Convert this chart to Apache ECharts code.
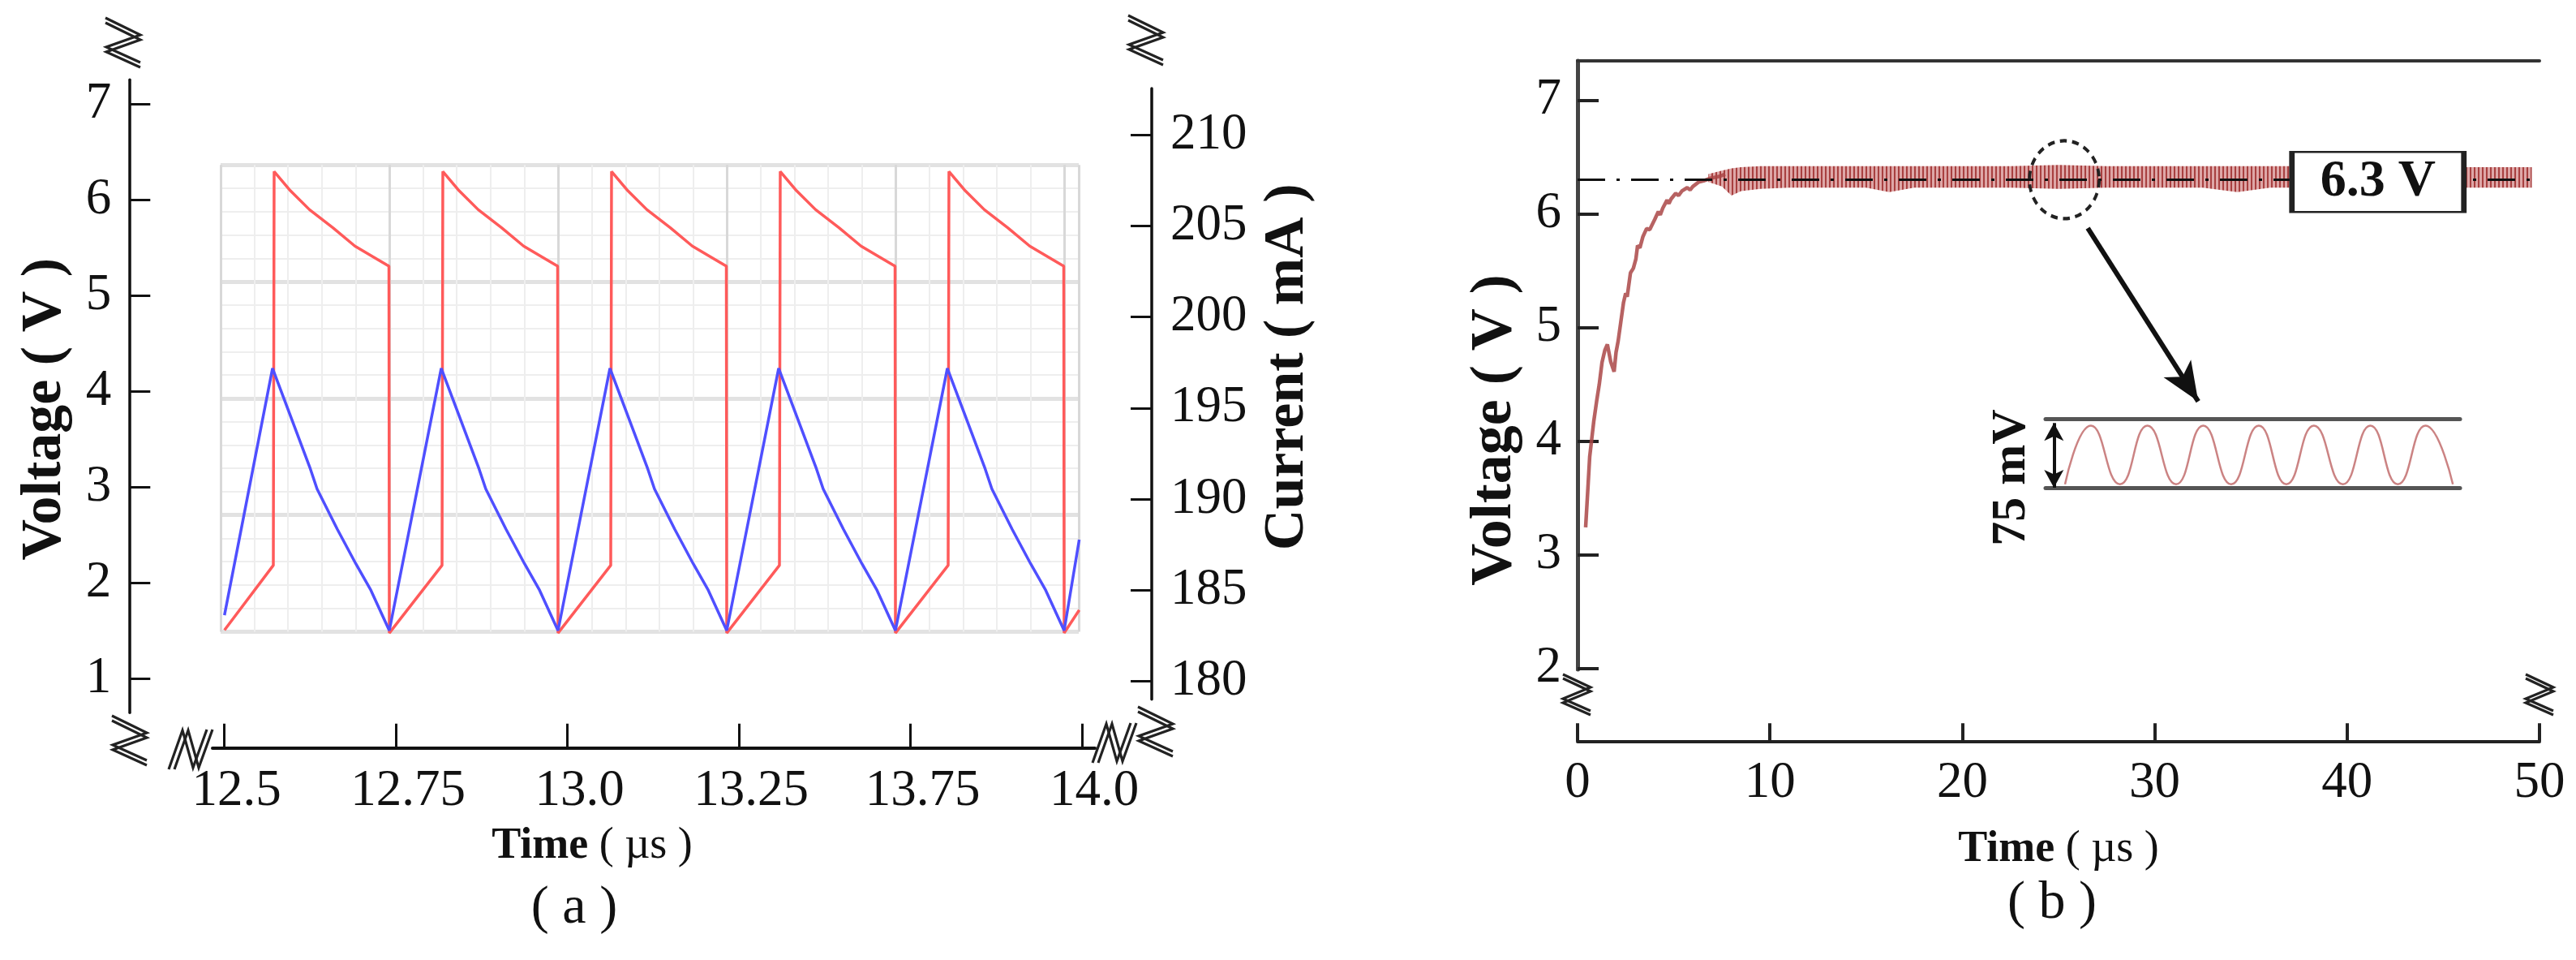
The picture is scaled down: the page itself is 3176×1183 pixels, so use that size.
<!DOCTYPE html>
<html><head><meta charset="utf-8">
<script src="https://cdn.jsdelivr.net/npm/echarts@6/dist/echarts.min.js"></script>
<style>html,body{margin:0;padding:0;background:#fff}#c{width:3176px;height:1183px}</style>
</head><body><div id="c"></div><script>
// ---------------- data: panel (a) ----------------
const aTickValues = [12.5, 12.8, 13.1, 13.4, 13.7, 14.0];
const aTickLabels = ['12.5', '12.75', '13.0', '13.25', '13.75', '14.0'];
const aVoltTicks = [1, 2, 3, 4, 5, 6, 7];
const aCurrentTicks = [180, 185, 190, 195, 200, 205, 210];
// red trace, current (mA) vs time (us)
const aCurrent = [
  [12.5000,182.80],[12.5855,186.36],[12.5869,208.0],[12.6136,207.0],[12.6488,205.9],[12.6901,204.9],[12.7282,203.9],[12.7606,203.3],[12.7841,202.86],[12.7877,202.8],[12.7884,182.64],
  [12.8806,186.36],[12.8820,208.0],[12.9087,207.0],[12.9439,205.9],[12.9852,204.9],[13.0233,203.9],[13.0557,203.3],[13.0792,202.86],[13.0828,202.8],[13.0835,182.64],
  [13.1757,186.36],[13.1771,208.0],[13.2038,207.0],[13.2390,205.9],[13.2803,204.9],[13.3184,203.9],[13.3508,203.3],[13.3743,202.86],[13.3779,202.8],[13.3786,182.64],
  [13.4708,186.36],[13.4722,208.0],[13.4989,207.0],[13.5341,205.9],[13.5754,204.9],[13.6135,203.9],[13.6459,203.3],[13.6694,202.86],[13.6730,202.8],[13.6737,182.64],
  [13.7659,186.36],[13.7673,208.0],[13.7940,207.0],[13.8292,205.9],[13.8705,204.9],[13.9086,203.9],[13.9410,203.3],[13.9645,202.86],[13.9681,202.8],[13.9688,182.64],
  [13.9952,183.90]
];
// blue trace, voltage (V) vs time (us)
const aVoltage = [
  [12.5000,1.66],[12.5841,4.24],[12.6150,3.75],[12.6502,3.19],[12.6620,2.98],[12.6973,2.56],[12.7296,2.20],[12.7562,1.92],[12.7884,1.50],
  [12.8792,4.24],[12.9101,3.75],[12.9453,3.19],[12.9571,2.98],[12.9924,2.56],[13.0247,2.20],[13.0513,1.92],[13.0835,1.50],
  [13.1743,4.24],[13.2052,3.75],[13.2404,3.19],[13.2522,2.98],[13.2875,2.56],[13.3198,2.20],[13.3464,1.92],[13.3786,1.50],
  [13.4694,4.24],[13.5003,3.75],[13.5355,3.19],[13.5473,2.98],[13.5826,2.56],[13.6149,2.20],[13.6415,1.92],[13.6737,1.50],
  [13.7645,4.24],[13.7954,3.75],[13.8306,3.19],[13.8424,2.98],[13.8777,2.56],[13.9100,2.20],[13.9366,1.92],[13.9688,1.50],
  [13.9952,2.45]
];

// ---------------- data: panel (b) ----------------
const bTimeTicks = [0, 10, 20, 30, 40, 50];
const bVoltTicks = [2, 3, 4, 5, 6, 7];
const bRise = [
  [0.42,3.24],[0.55,3.62],[0.63,3.86],[0.84,4.17],[1.00,4.36],[1.13,4.50],[1.27,4.69],[1.42,4.80],[1.55,4.85],[1.72,4.70],
  [1.90,4.61],[2.00,4.78],[2.11,4.88],[2.25,5.05],[2.39,5.22],[2.50,5.30],[2.58,5.27],[2.75,5.48],[2.90,5.52],[3.03,5.60],
  [3.12,5.72],[3.24,5.70],[3.40,5.80],[3.59,5.87],[3.75,5.86],[4.01,5.95],[4.20,6.02],[4.30,5.99],[4.43,6.05],[4.65,6.12],
  [4.75,6.09],[4.86,6.13],[5.10,6.18],[5.25,6.16],[5.42,6.20],[5.70,6.23],[5.85,6.21],[5.99,6.24],[6.30,6.28],[6.55,6.29],
  [6.85,6.31],[7.11,6.32],[7.40,6.33],[7.67,6.35]
];
const bBandTime = [6.8, 7.5, 8.0, 8.5, 9.5, 11, 13, 15, 16.2, 17.5, 20, 22.5, 25, 27.5, 30, 32.5, 34.3, 36, 38, 40, 42, 44, 46, 48, 49.6];
const bBandHigh = [6.35, 6.38, 6.40, 6.41, 6.42, 6.42, 6.42, 6.42, 6.42, 6.42, 6.42, 6.42, 6.43, 6.42, 6.42, 6.42, 6.42, 6.42, 6.42, 6.42, 6.42, 6.41, 6.41, 6.41, 6.41];
const bBandLow  = [6.28, 6.24, 6.16, 6.20, 6.22, 6.23, 6.23, 6.23, 6.19, 6.23, 6.23, 6.23, 6.22, 6.23, 6.23, 6.23, 6.19, 6.23, 6.23, 6.23, 6.23, 6.23, 6.23, 6.23, 6.23];
const bRefLevel = 6.3;
const bRefSpan = [0, 49.6];
// inset: ripple in mV vs ripple cycles
const bInsetRipple = [
  [0.349,4],[0.814,72],[1.333,4],[1.826,72],[2.340,4],[2.827,72],[3.328,4],[3.823,72],
  [4.317,4],[4.811,72],[5.330,4],[5.823,72],[6.315,4],[6.810,72],[7.302,4]
];
const bRippleMv = 75;

// ---------------- styling helpers ----------------
const SERIF = "'Liberation Serif','Times New Roman',serif";
const INK = '#111';

const pc = document.createElement('canvas');
pc.width = 5; pc.height = 40;
const pg = pc.getContext('2d');
pg.fillStyle = 'rgba(195,95,95,0.55)'; pg.fillRect(0, 0, 5, 40);
pg.fillStyle = 'rgba(150,30,30,0.75)'; pg.fillRect(0, 0, 2, 40);
const bandPattern = { image: pc, repeat: 'repeat' };

function zig(cx, cy, pts, dx, dy) {
  const st = { stroke: '#222', lineWidth: 3.2, fill: null };
  return { type: 'group', x: cx, y: cy, silent: true, children: [
    { type: 'polyline', shape: { points: pts }, style: st },
    { type: 'polyline', shape: { points: pts.map(p => [p[0] + dx, p[1] + dy]) }, style: st }
  ]};
}
const vZ = [[-22,-28],[21,-7],[-21,8],[21,27]];
const vZs = [[-17,-23],[17,-7],[-17,7],[17,22]];
const hZ = [[-24,24],[-7,-24],[6,22],[23,-25]];

const tickLab = { fontFamily: SERIF, fontSize: 63, color: INK };
const off = { show: false };

const option = {
  animation: false,
  textStyle: { fontFamily: SERIF },
  title: [
    { text: '( a )', left: 703, top: 1082, textAlign: 'center', textStyle: { fontFamily: SERIF, fontWeight: 'normal', fontSize: 66, color: INK } },
    { text: '( b )', left: 2525, top: 1076, textAlign: 'center', textStyle: { fontFamily: SERIF, fontWeight: 'normal', fontSize: 66, color: INK } }
  ],
  grid: [
    { left: 272, top: 203.3, width: 1058, height: 575.2, containLabel: false, outerBoundsMode: 'none' },
    { left: 262, top: 98.3, width: 1088, height: 780, containLabel: false, outerBoundsMode: 'none' },
    { left: 262, top: 109, width: 1088, height: 752.7, containLabel: false, outerBoundsMode: 'none' },
    { left: 1945, top: 75, width: 1186, height: 750, containLabel: false, outerBoundsMode: 'none' },
    { left: 2522, top: 516, width: 511, height: 85, containLabel: false, outerBoundsMode: 'none' }
  ],
  xAxis: [
    { gridIndex: 0, type: 'value', min: 0, max: 25.43, interval: 5, axisLine: off, axisTick: off, axisLabel: off,
      splitLine: { show: true, lineStyle: { color: '#d8d8d8', width: 3 } },
      minorTick: { show: false, splitNumber: 5 },
      minorSplitLine: { show: true, lineStyle: { color: '#eeeeee', width: 2 } } },
    { gridIndex: 1, type: 'value', min: 12.4791, max: 14.0227, position: 'bottom', offset: 43.4,
      axisLine: { lineStyle: { color: INK, width: 4 } },
      axisTick: { inside: true, length: 30, lineStyle: { color: INK, width: 3 }, customValues: aTickValues },
      axisLabel: Object.assign({ customValues: aTickValues, margin: 22, padding: [0, 0, 0, 30],
        formatter: v => { const i = aTickValues.findIndex(t => Math.abs(t - v) < 1e-6); return i >= 0 ? aTickLabels[i] : ''; } }, tickLab),
      splitLine: off,
      name: '{b|Time}{n| ( µs )}', nameLocation: 'middle', nameGap: 94,
      nameTextStyle: { padding: [0, 152, 0, 0], rich: {
        b: { fontFamily: SERIF, fontWeight: 'bold', fontSize: 54, color: INK },
        n: { fontFamily: SERIF, fontSize: 54, color: INK } } } },
    { gridIndex: 2, type: 'value', min: 12.4791, max: 14.0227, show: false },
    { gridIndex: 3, type: 'value', min: 0, max: 50, position: 'bottom', offset: 88.3,
      axisLine: { lineStyle: { color: '#222', width: 4 } },
      axisTick: { inside: true, length: 22, lineStyle: { color: '#222', width: 4 }, customValues: bTimeTicks },
      axisLabel: Object.assign({ customValues: bTimeTicks, margin: 21 }, tickLab),
      splitLine: off,
      name: '{b|Time}{n| ( µs )}', nameLocation: 'middle', nameGap: 107,
      nameTextStyle: { rich: {
        b: { fontFamily: SERIF, fontWeight: 'bold', fontSize: 54, color: INK },
        n: { fontFamily: SERIF, fontSize: 54, color: INK } } } },
    { gridIndex: 3, type: 'value', min: 0, max: 50, position: 'top',
      axisLine: { lineStyle: { color: '#333', width: 4 } }, axisTick: off, axisLabel: off, splitLine: off },
    { gridIndex: 4, type: 'value', min: 0, max: 7.43, position: 'bottom',
      axisLine: { lineStyle: { color: '#555', width: 5 } }, axisTick: off, axisLabel: off, splitLine: off },
    { gridIndex: 4, type: 'value', min: 0, max: 7.43, position: 'top',
      axisLine: { lineStyle: { color: '#555', width: 5 } }, axisTick: off, axisLabel: off, splitLine: off }
  ],
  yAxis: [
    { gridIndex: 0, type: 'value', min: 0, max: 20, interval: 5, axisLine: off, axisTick: off, axisLabel: off,
      splitLine: { show: true, lineStyle: { color: '#e2e2e2', width: 5 } },
      minorTick: { show: false, splitNumber: 5 },
      minorSplitLine: { show: true, lineStyle: { color: '#eeeeee', width: 2 } } },
    { gridIndex: 1, type: 'value', min: 0.6413, max: 7.2543, position: 'left', offset: 102.7,
      axisLine: { show: true, lineStyle: { color: INK, width: 3.5 } },
      axisTick: { show: true, inside: true, length: 26, lineStyle: { color: INK, width: 3 }, customValues: aVoltTicks },
      axisLabel: Object.assign({ customValues: aVoltTicks, margin: 22 }, tickLab),
      splitLine: off,
      name: 'Voltage ( V )', nameLocation: 'middle', nameRotate: 90, nameGap: 68,
      nameTextStyle: { fontFamily: SERIF, fontWeight: 'bold', fontSize: 70, color: INK, padding: [0, 32, 0, 0] } },
    { gridIndex: 2, type: 'value', min: 179.0, max: 212.56, position: 'right', offset: 70,
      axisLine: { show: true, lineStyle: { color: INK, width: 3.5 } },
      axisTick: { show: true, inside: true, length: 26, lineStyle: { color: INK, width: 3 }, customValues: aCurrentTicks },
      axisLabel: Object.assign({ customValues: aCurrentTicks, margin: 23 }, tickLab),
      splitLine: off,
      name: 'Current ( mA )', nameLocation: 'middle', nameRotate: 90, nameGap: 133,
      nameTextStyle: { fontFamily: SERIF, fontWeight: 'bold', fontSize: 70, color: INK, padding: [0, 0, 0, 66] } },
    { gridIndex: 3, type: 'value', min: 1.989, max: 7.346, position: 'left',
      axisLine: { show: true, lineStyle: { color: '#333', width: 4 } },
      axisTick: { show: true, inside: true, length: 26, lineStyle: { color: '#222', width: 4 }, customValues: bVoltTicks },
      axisLabel: Object.assign({ customValues: bVoltTicks, margin: 20 }, tickLab),
      splitLine: off,
      name: 'Voltage ( V )', nameLocation: 'middle', nameRotate: 90, nameGap: 66,
      nameTextStyle: { fontFamily: SERIF, fontWeight: 'bold', fontSize: 72, color: INK, padding: [0, 160, 0, 0] } },
    { gridIndex: 3, type: 'value', min: 1.989, max: 7.346, position: 'right',
      axisLine: { show: true, lineStyle: { color: '#444', width: 5 } }, axisTick: off, axisLabel: off, splitLine: off },
    { gridIndex: 4, type: 'value', min: 0, max: 80, axisLine: off, axisTick: off, axisLabel: off, splitLine: off,
      name: bRippleMv + ' mV', nameLocation: 'middle', nameRotate: 90, nameGap: 12,
      nameTextStyle: { fontFamily: SERIF, fontWeight: 'bold', fontSize: 60, color: INK, padding: [0, 60, 0, 0] } }
  ],
  series: [
    { name: 'Current', type: 'line', xAxisIndex: 2, yAxisIndex: 2, data: aCurrent, symbol: 'none', z: 3,
      lineStyle: { color: '#ff5a5a', width: 3.5 } },
    { name: 'Voltage', type: 'line', xAxisIndex: 1, yAxisIndex: 1, data: aVoltage, symbol: 'none', z: 4,
      lineStyle: { color: '#4f4fff', width: 3.5 } },
    { name: 'Output rise', type: 'line', xAxisIndex: 3, yAxisIndex: 3, data: bRise, symbol: 'none', z: 3,
      lineStyle: { color: 'rgba(170,70,70,0.85)', width: 4.5 } },
    { name: 'Output ripple', type: 'custom', xAxisIndex: 3, yAxisIndex: 3, z: 2, silent: true, clip: true,
      data: bBandTime.map((t, i) => [t, bBandLow[i], bBandHigh[i]]),
      encode: { x: 0, y: [1, 2] },
      renderItem: (params, api) => {
        if (params.dataIndex !== 0) return null;
        const top = bBandTime.map((t, i) => api.coord([t, bBandHigh[i]]));
        const bot = bBandTime.map((t, i) => api.coord([t, bBandLow[i]])).reverse();
        return { type: 'polygon', shape: { points: top.concat(bot) }, style: { fill: bandPattern, stroke: null } };
      } },
    { name: 'Reference', type: 'line', xAxisIndex: 3, yAxisIndex: 3, symbol: 'none', z: 3,
      data: bRefSpan.map(t => [t, bRefLevel]),
      lineStyle: { color: INK, width: 3, type: [34, 14, 4, 14] },
      markPoint: { silent: true, z: 10, data: [
        { coord: [41.6, bRefLevel - 0.02], symbol: 'rect', symbolSize: [212, 74],
          itemStyle: { color: '#fff', borderColor: '#222', borderWidth: 4 },
          label: { show: true, position: 'inside', formatter: bRefLevel + ' V', fontFamily: SERIF, fontWeight: 'bold', fontSize: 64, color: INK } },
        { coord: [25.3, bRefLevel], symbol: 'circle', symbolSize: [86, 96],
          itemStyle: { color: 'rgba(0,0,0,0)', borderColor: '#222', borderWidth: 4, borderType: [9, 7] },
          label: { show: false } }
      ] },
      markLine: { silent: true, z: 10, symbol: ['none', 'arrow'], symbolSize: [30, 48], label: { show: false },
        lineStyle: { color: INK, width: 6, type: 'solid' },
        data: [[{ coord: [26.52, 5.873] }, { coord: [32.26, 4.349] }]] } },
    { name: 'Ripple zoom', type: 'line', xAxisIndex: 5, yAxisIndex: 5, data: bInsetRipple, symbol: 'none', smooth: 0.5, z: 3,
      lineStyle: { color: 'rgba(190,100,100,0.8)', width: 2.5 },
      markLine: { silent: true, symbol: ['arrow', 'arrow'], symbolSize: [18, 22], label: { show: false },
        lineStyle: { color: INK, width: 4, type: 'solid' },
        data: [[{ coord: [0.15, 0] }, { coord: [0.15, bRippleMv] }]] } }
  ],
  graphic: [
    zig(152, 50, vZ, 0, 6), zig(160, 910, vZ, 0, 6), zig(232, 924, hZ, 7, 0), zig(1371, 916, hZ, 7, 0),
    zig(1413, 47, vZ, 0, 6), zig(1425, 899, vZ, 0, 6), zig(1944, 854, vZs, 0, 5), zig(3131, 854, vZs, 0, 5)
  ]
};
const chart = echarts.init(document.getElementById('c'), null, { renderer: 'canvas' });
chart.setOption(option);
</script></body></html>
